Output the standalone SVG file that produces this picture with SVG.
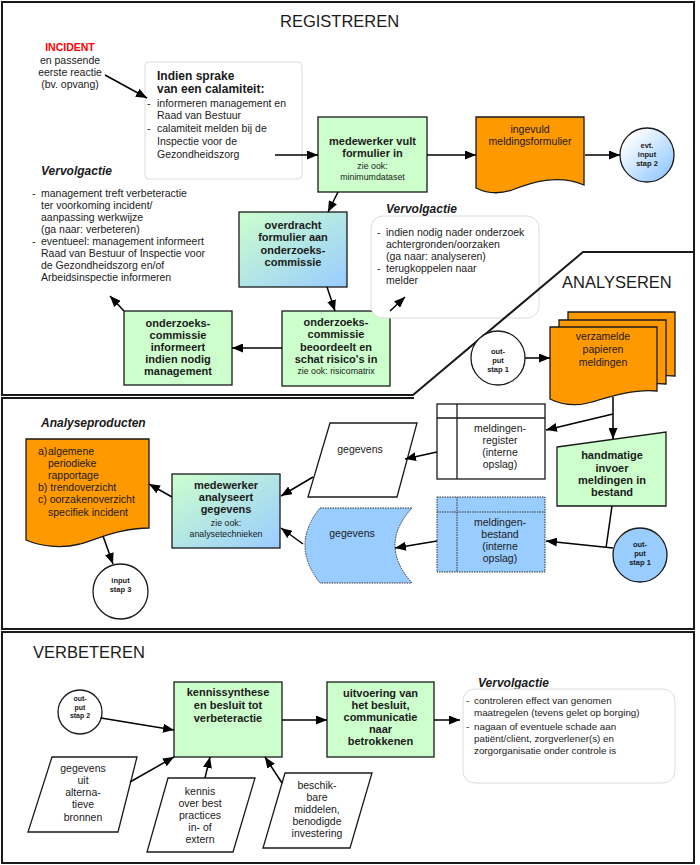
<svg xmlns="http://www.w3.org/2000/svg" width="700" height="865" viewBox="0 0 700 865">
<style>
.frame{fill:none;stroke:#1a1a1a;stroke-width:2}
.bx{stroke:#1a1a1a;stroke-width:1.3}
.green{fill:#ccffcc}
.orange{fill:#ff9900}
.blue{fill:#99ccff}
.white{fill:#ffffff}
.note{fill:#ffffff;stroke:#dcdcdc;stroke-width:1}
.t{font-family:"Liberation Sans",Arial,sans-serif;font-size:10.5px;fill:#1a1a1a}
.b{font-weight:bold;font-size:11px}
.c{text-anchor:middle}
.s{font-size:8.8px}
.ci{font-size:7.5px;font-weight:bold}
.h{font-size:16.5px}
.vi{font-weight:bold;font-style:italic;font-size:12px}
.conn line,.conn polyline{stroke:#000;stroke-width:1.5;fill:none}
.arr{marker-end:url(#ah)}
.dot{stroke:#333;stroke-width:1;stroke-dasharray:1.5 1}
</style>
<defs>
<marker id="ah" viewBox="0 0 11 9" refX="11" refY="4.5" markerWidth="11" markerHeight="9" markerUnits="userSpaceOnUse" orient="auto"><path d="M0,0 L11,4.5 L0,9 z" fill="#000"/></marker>
<linearGradient id="gb" x1="0" y1="0" x2="1" y2="1"><stop offset="0" stop-color="#ccffcc"/><stop offset="1" stop-color="#99ccff"/></linearGradient>
<linearGradient id="wb" x1="0.15" y1="0.15" x2="0.85" y2="0.85"><stop offset="0" stop-color="#ffffff"/><stop offset="1" stop-color="#99ccff"/></linearGradient>
<path id="docstack" d="M550,327 H657 V391 C635,389 612,396 592,402 C575,407 560,404 550,399 Z"/>
</defs>
<rect width="700" height="865" fill="#ffffff"/>

<g id="incident">
<text class="t c" x="70" y="51" style="fill:#ff0000;font-weight:bold">INCIDENT</text>
<text class="t c" x="70" y="64">en passende</text>
<text class="t c" x="70" y="76">eerste reactie</text>
<text class="t c" x="70" y="88">(bv. opvang)</text>
</g>

<g id="calamiteit">
<rect class="note" x="145" y="62" width="157" height="117" rx="4"/>
<text class="t" x="157" y="80" style="font-weight:bold;font-size:12px">Indien sprake</text>
<text class="t" x="157" y="93" style="font-weight:bold;font-size:12px">van een calamiteit:</text>
<text class="t" x="147" y="107">-</text>
<text class="t" x="157" y="107">informeren management en</text>
<text class="t" x="157" y="119">Raad van Bestuur</text>
<text class="t" x="147" y="132">-</text>
<text class="t" x="157" y="132">calamiteit melden bij de</text>
<text class="t" x="157" y="145">Inspectie voor de</text>
<text class="t" x="157" y="158">Gezondheidszorg</text>
</g>

<g id="medewerker-vult">
<rect class="bx green" x="318" y="117" width="109" height="75"/>
<text class="t b c" x="372.5" y="145">medewerker vult</text>
<text class="t b c" x="372.5" y="157">formulier in</text>
<text class="t s c" x="372.5" y="169">zie ook:</text>
<text class="t s c" x="372.5" y="180">minimumdataset</text>
</g>

<g id="meldingsformulier">
<path class="bx orange" d="M476,117 H584 V185 C558,174 532,182 512,190 C497,195 486,193 476,188 Z"/>
<text class="t c" x="530" y="133">ingevuld</text>
<text class="t c" x="530" y="145">meldingsformulier</text>
</g>

<g id="evt-input-stap2">
<circle class="bx" cx="647" cy="155" r="27" fill="url(#wb)"/>
<text class="t ci c" x="647" y="148">evt.</text>
<text class="t ci c" x="647" y="157">input</text>
<text class="t ci c" x="647" y="166">stap 2</text>
</g>

<g id="overdracht">
<rect class="bx" x="239" y="212" width="108" height="75" fill="url(#gb)"/>
<text class="t b c" x="293" y="229">overdracht</text>
<text class="t b c" x="293" y="241">formulier aan</text>
<text class="t b c" x="293" y="253.5">onderzoeks-</text>
<text class="t b c" x="293" y="266">commissie</text>
</g>

<g id="beoordeelt">
<rect class="bx green" x="282" y="311" width="108" height="75"/>
<text class="t b c" x="336" y="326">onderzoeks-</text>
<text class="t b c" x="336" y="338">commissie</text>
<text class="t b c" x="336" y="351">beoordeelt en</text>
<text class="t b c" x="336" y="363">schat risico's in</text>
<text class="t s c" x="336" y="374">zie ook: risicomatrix</text>
</g>

<g id="informeert">
<rect class="bx green" x="124" y="311" width="108" height="74"/>
<text class="t b c" x="178" y="327">onderzoeks-</text>
<text class="t b c" x="178" y="339">commissie</text>
<text class="t b c" x="178" y="351">informeert</text>
<text class="t b c" x="178" y="363">indien nodig</text>
<text class="t b c" x="178" y="375">management</text>
</g>

<g id="vervolgactie-1">
<text class="t vi" x="41" y="175">Vervolgactie</text>
<text class="t" x="32" y="197">-</text>
<text class="t" x="41" y="197">management treft verbeteractie</text>
<text class="t" x="41" y="209">ter voorkoming incident/</text>
<text class="t" x="41" y="221">aanpassing werkwijze</text>
<text class="t" x="41" y="233">(ga naar: verbeteren)</text>
<text class="t" x="32" y="245">-</text>
<text class="t" x="41" y="245">eventueel: management informeert</text>
<text class="t" x="41" y="257">Raad van Bestuur of Inspectie voor</text>
<text class="t" x="41" y="269">de Gezondheidszorg en/of</text>
<text class="t" x="41" y="281">Arbeidsinspectie informeren</text>
</g>

<g id="vervolgactie-2">
<rect class="note" x="371" y="216" width="168" height="102" rx="12"/>
<text class="t vi" x="386" y="213">Vervolgactie</text>
<text class="t" x="377" y="236">-</text>
<text class="t" x="386" y="236">indien nodig nader onderzoek</text>
<text class="t" x="386" y="248">achtergronden/oorzaken</text>
<text class="t" x="386" y="260">(ga naar: analyseren)</text>
<text class="t" x="377" y="272">-</text>
<text class="t" x="386" y="272">terugkoppelen naar</text>
<text class="t" x="386" y="284">melder</text>
</g>

<g id="sections">
<path class="frame" d="M2,2 H694 V252 H583 L413,395 H2 Z"/>
<path class="frame" d="M694,252 V629 H2 V398 H414"/>
<rect class="frame" x="2" y="632" width="692" height="231"/>
<text class="t h" x="280" y="27">REGISTREREN</text>
<text class="t h" x="562" y="288">ANALYSEREN</text>
<text class="t h" x="33" y="658">VERBETEREN</text>
</g>

<g id="papieren-meldingen">
<use href="#docstack" class="bx orange" transform="translate(18,-15)"/>
<use href="#docstack" class="bx orange" transform="translate(9,-7)"/>
<use href="#docstack" class="bx orange"/>
<text class="t c" x="603" y="340">verzamelde</text>
<text class="t c" x="603" y="353">papieren</text>
<text class="t c" x="603" y="366">meldingen</text>
</g>

<g id="output-stap1-a">
<circle class="bx white" cx="498" cy="358" r="27"/>
<text class="t ci c" x="498" y="354">out-</text>
<text class="t ci c" x="498" y="363">put</text>
<text class="t ci c" x="498" y="372">stap 1</text>
</g>

<g id="meldingenregister">
<rect class="bx white" x="437" y="404" width="108" height="75"/>
<line class="bx" x1="457" y1="404" x2="457" y2="479"/>
<line class="bx" x1="437" y1="418" x2="545" y2="418"/>
<text class="t c" x="500" y="432">meldingen-</text>
<text class="t c" x="500" y="444">register</text>
<text class="t c" x="500" y="456">(interne</text>
<text class="t c" x="500" y="468">opslag)</text>
</g>

<g id="handmatige-invoer">
<polygon class="bx green" points="557,447 666,432 666,506 557,506"/>
<text class="t b c" x="612" y="459">handmatige</text>
<text class="t b c" x="612" y="472">invoer</text>
<text class="t b c" x="612" y="484">meldingen in</text>
<text class="t b c" x="612" y="496">bestand</text>
</g>

<g id="meldingenbestand">
<rect class="dot blue" x="437" y="497" width="108" height="75"/>
<line class="dot" x1="457" y1="497" x2="457" y2="572"/>
<line class="dot" x1="437" y1="512" x2="545" y2="512"/>
<text class="t c" x="500" y="526">meldingen-</text>
<text class="t c" x="500" y="538">bestand</text>
<text class="t c" x="500" y="550">(interne</text>
<text class="t c" x="500" y="562">opslag)</text>
</g>

<g id="output-stap1-b">
<circle class="bx blue" cx="640" cy="555" r="27"/>
<text class="t ci c" x="640" y="547">out-</text>
<text class="t ci c" x="640" y="556">put</text>
<text class="t ci c" x="640" y="565">stap 1</text>
</g>

<g id="gegevens-register">
<polygon class="bx white" points="330,423 417,423 397,497 308,497"/>
<text class="t c" x="360" y="453">gegevens</text>
</g>

<g id="gegevens-bestand">
<path class="dot blue" d="M320,508 L412,508 Q378,545 412,583 L320,583 Q290,545 320,508 Z"/>
<text class="t c" x="352" y="537">gegevens</text>
</g>

<g id="analyseert">
<rect class="bx" x="172" y="474" width="108" height="74" fill="url(#gb)"/>
<text class="t b c" x="226" y="489">medewerker</text>
<text class="t b c" x="226" y="501">analyseert</text>
<text class="t b c" x="226" y="513">gegevens</text>
<text class="t s c" x="226" y="526">zie ook:</text>
<text class="t s c" x="226" y="537">analysetechnieken</text>
</g>

<g id="analyseproducten">
<text class="t vi" x="41" y="427">Analyseproducten</text>
<path class="bx orange" d="M26,439 H149 V528 C122,528 100,538 80,544 C60,549 40,546 26,540 Z"/>
<text class="t" x="38" y="455">a)</text>
<text class="t" x="48" y="455">algemene</text>
<text class="t" x="48" y="467">periodieke</text>
<text class="t" x="48" y="479">rapportage</text>
<text class="t" x="38" y="491">b) trendoverzicht</text>
<text class="t" x="38" y="503">c) oorzakenoverzicht</text>
<text class="t" x="48" y="516">specifiek incident</text>
</g>

<g id="input-stap3">
<circle class="bx white" cx="120.5" cy="591.5" r="27.5"/>
<text class="t ci c" x="120.5" y="583">input</text>
<text class="t ci c" x="120.5" y="592">stap 3</text>
</g>

<g id="output-stap2">
<circle class="bx white" cx="80" cy="712" r="22"/>
<text class="t ci c" x="80" y="701" style="font-size:7px">out-</text>
<text class="t ci c" x="80" y="709.5" style="font-size:7px">put</text>
<text class="t ci c" x="80" y="718" style="font-size:7px">stap 2</text>
</g>

<g id="kennissynthese">
<rect class="bx green" x="174" y="682" width="108" height="75"/>
<text class="t b c" x="228" y="696">kennissynthese</text>
<text class="t b c" x="228" y="709">en besluit tot</text>
<text class="t b c" x="228" y="722">verbeteractie</text>
</g>

<g id="uitvoering">
<rect class="bx green" x="327" y="682" width="107" height="75"/>
<text class="t b c" x="380.5" y="697">uitvoering van</text>
<text class="t b c" x="380.5" y="709">het besluit,</text>
<text class="t b c" x="380.5" y="721">communicatie</text>
<text class="t b c" x="380.5" y="733">naar</text>
<text class="t b c" x="380.5" y="745">betrokkenen</text>
</g>

<g id="vervolgactie-3">
<text class="t vi" x="478" y="687">Vervolgactie</text>
<rect class="note" x="463" y="689" width="212" height="94" rx="12"/>
<text class="t" x="466" y="704" style="font-size:9.8px">-</text>
<text class="t" x="474" y="704" style="font-size:9.8px">controleren effect van genomen</text>
<text class="t" x="474" y="716" style="font-size:9.8px">maatregelen (tevens gelet op borging)</text>
<text class="t" x="466" y="730" style="font-size:9.8px">-</text>
<text class="t" x="474" y="730" style="font-size:9.8px">nagaan of eventuele schade aan</text>
<text class="t" x="474" y="742" style="font-size:9.8px">patiënt/cliënt, zorgverlener(s) en</text>
<text class="t" x="474" y="754" style="font-size:9.8px">zorgorganisatie onder controle is</text>
</g>

<g id="alternatieve-bronnen">
<polygon class="bx white" points="52,757 137,757 118,832 28,832"/>
<text class="t c" x="83" y="772">gegevens</text>
<text class="t c" x="83" y="784">uit</text>
<text class="t c" x="83" y="796">alterna-</text>
<text class="t c" x="83" y="808">tieve</text>
<text class="t c" x="83" y="821">bronnen</text>
</g>

<g id="best-practices">
<polygon class="bx white" points="168,778 255,778 233,852 147,852"/>
<text class="t c" x="200" y="795">kennis</text>
<text class="t c" x="200" y="807">over best</text>
<text class="t c" x="200" y="819">practices</text>
<text class="t c" x="200" y="831">in- of</text>
<text class="t c" x="200" y="843">extern</text>
</g>

<g id="middelen">
<polygon class="bx white" points="285,773 372,773 350,848 263,848"/>
<text class="t c" x="317" y="789">beschik-</text>
<text class="t c" x="317" y="801">bare</text>
<text class="t c" x="317" y="813">middelen,</text>
<text class="t c" x="317" y="825">benodigde</text>
<text class="t c" x="317" y="837">investering</text>
</g>

<g id="connectors" class="conn">
<line class="arr" x1="105" y1="75" x2="147" y2="98"/>
<line class="arr" x1="275" y1="155" x2="318" y2="155"/>
<line class="arr" x1="427" y1="155" x2="476" y2="155"/>
<line class="arr" x1="585" y1="155" x2="620" y2="155"/>
<line class="arr" x1="338" y1="192" x2="328" y2="212"/>
<line class="arr" x1="327" y1="287" x2="335" y2="311"/>
<line class="arr" x1="282" y1="348" x2="232" y2="348"/>
<line class="arr" x1="124" y1="311" x2="110" y2="296"/>
<line class="arr" x1="390" y1="311" x2="405" y2="297"/>
<line class="arr" x1="525" y1="358" x2="550" y2="358"/>
<line class="arr" x1="613" y1="397" x2="613" y2="439"/>
<line class="arr" x1="613" y1="414" x2="546" y2="430"/>
<line class="arr" x1="437" y1="452" x2="405" y2="459"/>
<line x1="612" y1="506" x2="606" y2="548"/>
<line class="arr" x1="613" y1="548" x2="546" y2="541"/>
<line class="arr" x1="437" y1="541" x2="395" y2="548"/>
<line class="arr" x1="313" y1="477" x2="281" y2="496"/>
<line class="arr" x1="303" y1="544" x2="281" y2="528"/>
<line class="arr" x1="172" y1="497" x2="149" y2="484"/>
<line class="arr" x1="103" y1="536" x2="113" y2="564"/>
<line class="arr" x1="101" y1="718" x2="174" y2="730"/>
<line class="arr" x1="282" y1="720" x2="327" y2="720"/>
<line class="arr" x1="434" y1="720" x2="460" y2="720"/>
<line class="arr" x1="130" y1="782" x2="174" y2="757"/>
<line class="arr" x1="205" y1="778" x2="210" y2="757"/>
<line class="arr" x1="282" y1="783" x2="265" y2="757"/>
</g>
</svg>
